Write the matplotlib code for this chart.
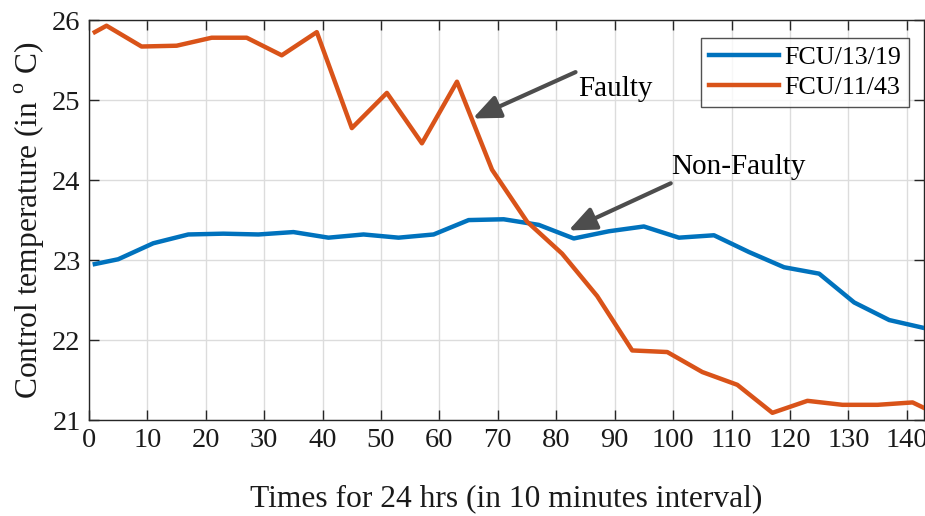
import matplotlib
matplotlib.use("Agg")
import matplotlib.pyplot as plt

plt.rcParams['font.family'] = ['Liberation Serif', 'DejaVu Serif']
plt.rcParams['mathtext.fontset'] = 'custom'
plt.rcParams['mathtext.rm'] = 'Liberation Serif'

blue_x = [1, 5, 11, 17, 23, 29, 35, 41, 47, 53, 59, 65, 71, 77, 83, 89, 95,
          101, 107, 113, 119, 125, 131, 137, 143]
blue_y = [22.95, 23.01, 23.21, 23.32, 23.33, 23.32, 23.35, 23.28, 23.32, 23.28,
          23.32, 23.50, 23.51, 23.44, 23.27, 23.36, 23.42, 23.28, 23.31, 23.10,
          22.91, 22.83, 22.47, 22.25, 22.15]

orange_x = [1, 3, 9, 15, 21, 27, 33, 39, 45, 51, 57, 63, 69, 75, 81, 87, 93,
            99, 105, 111, 117, 123, 129, 135, 141, 143]
orange_y = [25.85, 25.93, 25.67, 25.68, 25.78, 25.78, 25.56, 25.85, 24.65, 25.09,
            24.46, 25.23, 24.13, 23.48, 23.08, 22.55, 21.87, 21.85, 21.60, 21.44,
            21.09, 21.24, 21.19, 21.19, 21.22, 21.15]

labels = ['FCU/13/19', 'FCU/11/43']
colors = ['#0072BD', '#D95319']

fig = plt.figure(figsize=(9.25, 5.16), dpi=100)
ax = fig.add_axes([0.0962, 0.186, 0.903, 0.775])

ax.plot(blue_x, blue_y, color=colors[0], lw=3.2, label=labels[0], zorder=3)
ax.plot(orange_x, orange_y, color=colors[1], lw=3.2, label=labels[1], zorder=3)

ax.set_xlim(0, 143)
ax.set_ylim(21, 26)
ax.set_xticks(range(0, 141, 10))
ax.set_yticks(range(21, 27))

ax.grid(True, color='#dcdcdc', lw=1.0)
ax.set_axisbelow(True)
for s in ax.spines.values():
    s.set_color('#262626')
    s.set_linewidth(1.0)
ax.tick_params(direction='in', top=True, right=True, length=7, width=1.0,
               colors='#262626', labelsize=20.5, pad=6)
for lab in ax.get_xticklabels() + ax.get_yticklabels():
    lab.set_color('#1a1a1a')

ax.set_xlabel('Times for 24 hrs (in 10 minutes interval)', fontsize=22.7,
              color='#1a1a1a', labelpad=22)
ax.set_ylabel(r'Control temperature (in $^{\rm o}$ C)', fontsize=22.7,
              color='#1a1a1a', labelpad=4)

arrow = dict(arrowstyle='-|>,head_length=0.75,head_width=0.32', color='#4d4d4d',
             lw=3, shrinkA=0, shrinkB=0, mutation_scale=22)
ax.annotate('', xy=(65.7, 24.77), xytext=(83.3, 25.35), arrowprops=arrow)
ax.text(83.8, 25.14, 'Faulty', fontsize=21, va='center', ha='left', color='black')
ax.annotate('', xy=(82.1, 23.37), xytext=(99.6, 23.96), arrowprops=arrow)
ax.text(99.6, 24.16, 'Non-Faulty', fontsize=21, va='center', ha='left', color='black')

leg = ax.legend(loc='upper right', fontsize=18.7, frameon=True, fancybox=False,
                edgecolor='#262626', handlelength=2.7,
                bbox_to_anchor=(0.982, 0.955), borderaxespad=0,
                handletextpad=0.2, labelspacing=0.25, borderpad=0.3)
leg.get_frame().set_linewidth(1.0)
for t in leg.get_texts():
    t.set_color('#000000')

fig.savefig('out.png', dpi=100)
